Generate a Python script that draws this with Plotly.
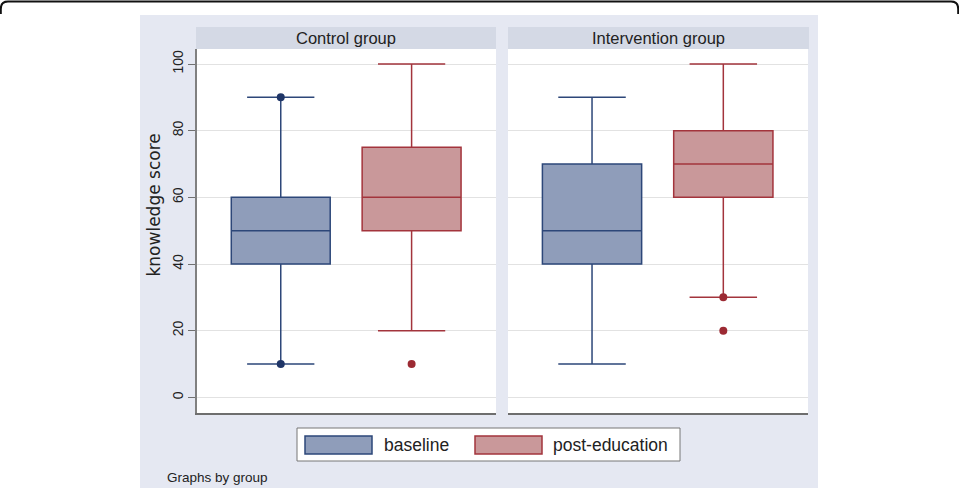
import plotly.graph_objects as go

W, H = 959, 488

# ---------------- data ----------------
panels = ["Control group", "Intervention group"]
series = ["baseline", "post-education"]

# box statistics per panel, [baseline, post-education]
control_q1 = [40, 50]
control_median = [50, 60]
control_q3 = [60, 75]
control_lower = [10, 20]
control_upper = [90, 100]
control_outliers = [[10, 90], [10]]

interv_q1 = [40, 60]
interv_median = [50, 70]
interv_q3 = [70, 80]
interv_lower = [10, 30]
interv_upper = [90, 100]
interv_outliers = [[], [30, 20]]

y_ticks = [0, 20, 40, 60, 80, 100]

# ---------------- style ----------------
fill_cols = ["#8f9dba", "#c9989a"]
line_cols = ["#2d4779", "#a3343c"]
mark_cols = ["#1f3567", "#9c2a33"]
FONT = "Liberation Sans, Arial, sans-serif"


def X(px):
    return px / W


def Y(py):
    return 1 - py / H


fig = go.Figure()

panel_data = [
    (control_q1, control_median, control_q3, control_lower, control_upper, control_outliers),
    (interv_q1, interv_median, interv_q3, interv_lower, interv_upper, interv_outliers),
]

for p, (q1, med, q3, lo, hi, outs) in enumerate(panel_data):
    xa = "x" if p == 0 else "x2"
    ya = "y" if p == 0 else "y2"
    for s in range(2):
        fig.add_trace(go.Box(
            x=[s], q1=[q1[s]], median=[med[s]], q3=[q3[s]],
            lowerfence=[lo[s]], upperfence=[hi[s]],
            width=0.756, whiskerwidth=0.68,
            fillcolor=fill_cols[s], line=dict(color=line_cols[s], width=1.5),
            boxpoints=False, name=series[s], showlegend=False,
            xaxis=xa, yaxis=ya,
        ))
        if outs[s]:
            fig.add_trace(go.Scatter(
                x=[s] * len(outs[s]), y=outs[s], mode="markers",
                marker=dict(color=mark_cols[s], size=8),
                showlegend=False, xaxis=xa, yaxis=ya,
            ))

yrange = [-4.7, 104.5]
ydom = [Y(413), Y(49)]
xr = [-0.64, 1.645]

fig.update_layout(
    width=W, height=H,
    margin=dict(l=0, r=0, t=0, b=0),
    paper_bgcolor="#e5e8f2",
    plot_bgcolor="white",
    font=dict(family=FONT, color="#222"),
    showlegend=False,
    xaxis=dict(domain=[X(197), X(496)], range=xr, showticklabels=False, ticks="",
               showgrid=False, zeroline=False, showline=True, linecolor="#6e6e6e",
               linewidth=1.5, anchor="y", fixedrange=True),
    xaxis2=dict(domain=[X(508), X(808)], range=xr, showticklabels=False, ticks="",
                showgrid=False, zeroline=False, showline=True, linecolor="#6e6e6e",
                linewidth=1.5, anchor="y2", fixedrange=True),
    yaxis=dict(domain=ydom, range=yrange, tickvals=y_ticks, tickangle=-90,
               tickfont=dict(size=14, color="#222"), ticks="outside", ticklen=7,
               tickcolor="#707070", showgrid=True, gridcolor="#e2e2e2", gridwidth=1,
               zeroline=False, showline=True, linecolor="#808080", linewidth=1.5,
               anchor="x", ticklabelstandoff=0),
    yaxis2=dict(domain=ydom, range=yrange, tickvals=y_ticks, showticklabels=False,
                ticks="", showgrid=True, gridcolor="#e2e2e2", gridwidth=1,
                zeroline=False, showline=False, anchor="x2", matches="y"),
)

shapes = []
# white outer margins
shapes.append(dict(type="rect", xref="paper", yref="paper", x0=0, x1=X(140), y0=0, y1=1,
                   fillcolor="white", line=dict(width=0), layer="below"))
shapes.append(dict(type="rect", xref="paper", yref="paper", x0=X(818), x1=1, y0=0, y1=1,
                   fillcolor="white", line=dict(width=0), layer="below"))
shapes.append(dict(type="rect", xref="paper", yref="paper", x0=0, x1=1, y0=Y(15), y1=1,
                   fillcolor="white", line=dict(width=0), layer="below"))
# rounded outer frame (top edge)
path = (f"M {X(0.8)},{Y(14)} L {X(0.8)},{Y(9)} Q {X(0.8)},{Y(1.6)} {X(8)},{Y(1.6)} "
        f"L {X(951)},{Y(1.6)} Q {X(958.2)},{Y(1.6)} {X(958.2)},{Y(9)} L {X(958.2)},{Y(14)}")
shapes.append(dict(type="path", xref="paper", yref="paper", path=path,
                   line=dict(color="#111", width=2)))
# panel header bands
for x0, x1 in [(196, 496), (508, 809)]:
    shapes.append(dict(type="rect", xref="paper", yref="paper", x0=X(x0), x1=X(x1),
                       y0=Y(49), y1=Y(27), fillcolor="#d4d9e5", line=dict(width=0),
                       layer="below"))
# legend frame
shapes.append(dict(type="rect", xref="paper", yref="paper", x0=X(297), x1=X(680),
                   y0=Y(461), y1=Y(428), fillcolor="white",
                   line=dict(color="#777", width=1), layer="below"))
# legend swatches
for s, (x0, x1) in enumerate([(305, 372), (475, 542)]):
    shapes.append(dict(type="rect", xref="paper", yref="paper", x0=X(x0), x1=X(x1),
                       y0=Y(454), y1=Y(436), fillcolor=fill_cols[s],
                       line=dict(color=line_cols[s], width=1.5), layer="above"))
fig.update_layout(shapes=shapes)

annotations = []
for name, cx in zip(panels, [346, 658.5]):
    annotations.append(dict(text=name, xref="paper", yref="paper", x=X(cx), y=Y(38),
                            xanchor="center", yanchor="middle", showarrow=False,
                            font=dict(size=16.5, color="#222", family=FONT)))
annotations.append(dict(text="knowledge score", xref="paper", yref="paper", x=X(153.5),
                        y=Y(205), xanchor="center", yanchor="middle", showarrow=False,
                        textangle=-90,
                        font=dict(size=17, color="#222", family="DejaVu Sans, sans-serif")))
for s, x0 in enumerate([382, 551]):
    annotations.append(dict(text=series[s], xref="paper", yref="paper", x=X(x0), y=Y(445),
                            xanchor="left", yanchor="middle", showarrow=False,
                            font=dict(size=17.5, color="#222", family=FONT)))
annotations.append(dict(text="Graphs by group", xref="paper", yref="paper", x=X(165),
                        y=Y(477), xanchor="left", yanchor="middle", showarrow=False,
                        font=dict(size=13.5, color="#222", family=FONT)))
fig.update_layout(annotations=annotations)

fig.write_html("out.html")
